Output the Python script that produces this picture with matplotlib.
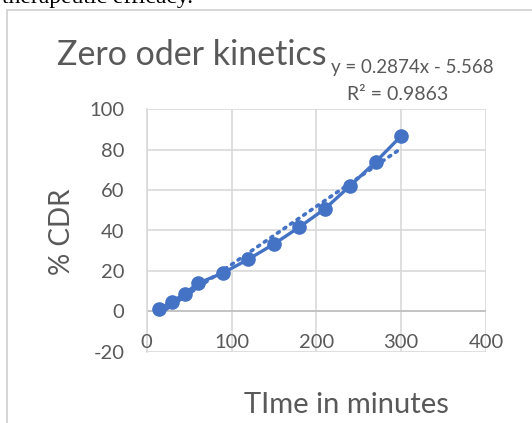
import matplotlib
matplotlib.use("Agg")
import matplotlib.pyplot as plt
from matplotlib.patches import Rectangle
import numpy as np

time_min = [15, 30, 45, 60, 90, 120, 150, 180, 210, 240, 270, 300]
cdr = [1.3, 4.8, 8.7, 13.8, 19.0, 25.8, 33.3, 41.7, 50.7, 62.2, 74.0, 86.8]
slope, intercept = 0.2874, -5.568
eq_text = "y = 0.2874x - 5.568"
r2_text = "R² = 0.9863"
xticks = [0, 100, 200, 300, 400]
yticks = [-20, 0, 20, 40, 60, 80, 100]

W, H = 532, 423
fig = plt.figure(figsize=(W / 100, H / 100), dpi=100)
FONT = "Lato"
gray = "#595959"
blue = "#4472C4"

# outer chart frame
fig.patches.append(Rectangle((7 / W, -0.05), 1.0, 1 - 10 / H + 0.05,
                             transform=fig.transFigure, fill=False,
                             edgecolor="#d0d0d0", linewidth=1.2))
# cropped text from page above
fig.text(193 / W, 1 - 3 / H, "therapeutic efficacy.", ha="right", va="baseline",
         fontsize=17, family="Liberation Serif", color="black")

ax = fig.add_axes([146.7 / W, 1 - 351.7 / H, (486 - 146.7) / W, (351.7 - 109.3) / H])
ax.set_xlim(0, 400)
ax.set_ylim(-20, 100)
ax.set_xticks(xticks)
ax.set_yticks(yticks)
ax.grid(True, color="#d9d9d9", linewidth=1.2)
ax.set_axisbelow(True)
for s in ["top", "right", "bottom"]:
    ax.spines[s].set_visible(False)
ax.spines["left"].set_color("#d9d9d9")
ax.spines["left"].set_linewidth(1.2)
ax.axhline(0, color="#bfbfbf", linewidth=1.2, zorder=1)
ax.tick_params(length=0, labelsize=14.5, labelcolor=gray)
ax.tick_params(axis="y", pad=16)
ax.set_xticklabels([])
ax.set_yticklabels([str(v) for v in yticks], family=FONT)
for t in xticks:
    ax.text(t, -15.2, str(t), ha="center", va="center", fontsize=14.5, color=gray, family=FONT)

xs = np.array([time_min[0], time_min[-1]])
ax.plot(xs, slope * xs + intercept, linestyle=(0, (0.6, 1.6)), color=blue,
        linewidth=2.6, dash_capstyle="round", zorder=2)
ax.plot(time_min, cdr, color=blue, linewidth=2.4, marker="o", markersize=9.5, zorder=3,
        clip_on=False)

fig.text(412 / W, 1 - 67 / H, eq_text, ha="center", va="center", fontsize=13.5,
         color=gray, family=FONT)
fig.text(398 / W, 1 - 95 / H, r2_text, ha="center", va="center", fontsize=14,
         color=gray, family=FONT)
fig.text(57 / W, 1 - 55 / H, "Zero oder kinetics", ha="left", va="center",
         fontsize=24.5, color=gray, family=FONT)
fig.text(62 / W, 1 - 232 / H, "% CDR", rotation=90, ha="center", va="center",
         fontsize=20, color=gray, family=FONT)
fig.text(346 / W, 1 - 405 / H, "TIme in minutes", ha="center", va="center",
         fontsize=21, color=gray, family=FONT)

fig.savefig("out.png", dpi=100)
